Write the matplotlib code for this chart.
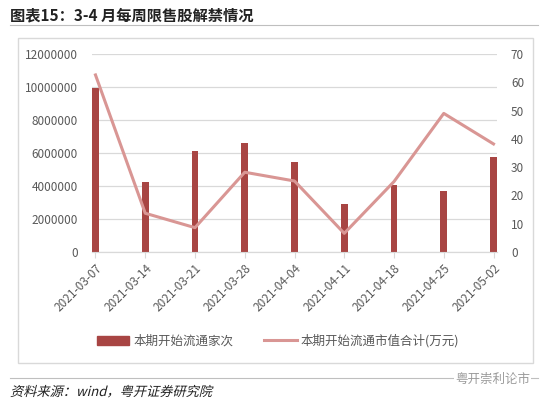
import matplotlib.pyplot as plt
from matplotlib.patches import Rectangle, PathPatch
from matplotlib.lines import Line2D
from matplotlib.textpath import TextPath
from matplotlib.font_manager import FontProperties
from matplotlib.transforms import Affine2D, IdentityTransform
import numpy as np

plt.rcParams['font.family'] = ['Noto Sans CJK SC', 'DejaVu Sans']

# data
dates = ["2021-03-07", "2021-03-14", "2021-03-21", "2021-03-28", "2021-04-04",
         "2021-04-11", "2021-04-18", "2021-04-25", "2021-05-02"]
bar_values = [9920000, 4220000, 6120000, 6630000, 5440000,
              2890000, 4060000, 3720000, 5780000]
line_values = [62.6, 13.7, 8.6, 28.2, 25.1, 6.6, 24.9, 49.0, 38.2]
bar_label = "本期开始流通家次"
line_label = "本期开始流通市值合计(万元)"
title = "图表15：3-4 月每周限售股解禁情况"
source = "资料来源：wind，粤开证券研究院"
watermark = "粤开崇利论市"

bar_color = '#A84543'
line_color = '#D99694'
grid_color = '#D9D9D9'
text_color = '#595959'

W, H = 550, 398
DPI = 100
fig = plt.figure(figsize=(W / DPI, H / DPI), dpi=DPI)

def fx(px):
    return px / W

def fy(py):
    return 1 - py / H

ax = fig.add_axes([fx(92), fy(252), fx(497) - fx(92), fy(54) - fy(252)])
ax2 = ax.twinx()

x = np.arange(len(dates))
bw = 0.14
ax.bar(x, bar_values, width=bw, color=bar_color, zorder=3)
ax.set_xlim(-bw / 2, len(dates) - 1 + bw / 2)
ax.set_ylim(0, 12000000)
ax.set_yticks(np.arange(0, 12000001, 2000000))
ax.set_yticklabels([str(v) for v in range(0, 12000001, 2000000)])
ax.grid(axis='y', color=grid_color, linewidth=0.9, zorder=0)
ax.set_axisbelow(True)

ax2.plot(x, line_values, color=line_color, linewidth=2.2, zorder=4)
ax2.set_ylim(0, 70)
ax2.set_yticks(range(0, 71, 10))

for a in (ax, ax2):
    for s in ('top', 'left', 'right'):
        a.spines[s].set_visible(False)
    a.spines['bottom'].set_color(grid_color)
    a.tick_params(axis='y', length=0, labelsize=8.5, labelcolor=text_color)
ax.tick_params(axis='y', pad=10)
ax2.tick_params(axis='y', pad=10)

ax.set_xticks(x)
ax.set_xticklabels(dates, rotation=45, ha='right', rotation_mode='anchor',
                   fontsize=8.5, color=text_color)
ax.tick_params(axis='x', length=4, color=grid_color, pad=3)

# chart frame
fig.patches.append(Rectangle((fx(18), fy(363)), fx(533) - fx(18), fy(38) - fy(363),
                             transform=fig.transFigure, fill=False,
                             edgecolor=grid_color, linewidth=1))

handles = [Rectangle((0, 0), 1, 1, color=bar_color),
           Line2D([0], [0], color=line_color, linewidth=2.2)]
fig.legend(handles, [bar_label, line_label], loc='center', ncol=2,
           bbox_to_anchor=(fx(278), fy(341)), frameon=False, fontsize=9,
           handlelength=2.6, columnspacing=2.5, handletextpad=0.3,
           labelcolor=text_color)

fig.text(fx(10), fy(15), title, fontsize=11, fontweight='bold', va='center',
         ha='left', color='#222222')
fig.add_artist(Line2D([fx(10), fx(538)], [fy(25), fy(25)], color='#BFBFBF',
                      linewidth=0.8, transform=fig.transFigure))
fig.add_artist(Line2D([fx(10), fx(538)], [fy(378), fy(378)], color='#BFBFBF',
                      linewidth=0.8, transform=fig.transFigure))

# source note, slanted like the original (CJK font has no italic face)
tp = TextPath((0, 0), source, size=9.5, prop=FontProperties(family='Noto Sans CJK SC'))
tr = Affine2D().skew_deg(14, 0).scale(DPI / 72).translate(10, H - 396)
fig.patches.append(PathPatch(tr.transform_path(tp), transform=IdentityTransform(),
                             facecolor='#222222', edgecolor='none'))

fig.text(fx(530), fy(379), watermark, fontsize=9, va='center', ha='right',
         color='#9A9A9A', bbox=dict(facecolor='white', edgecolor='none', pad=1))

fig.savefig('out.png', dpi=DPI)
